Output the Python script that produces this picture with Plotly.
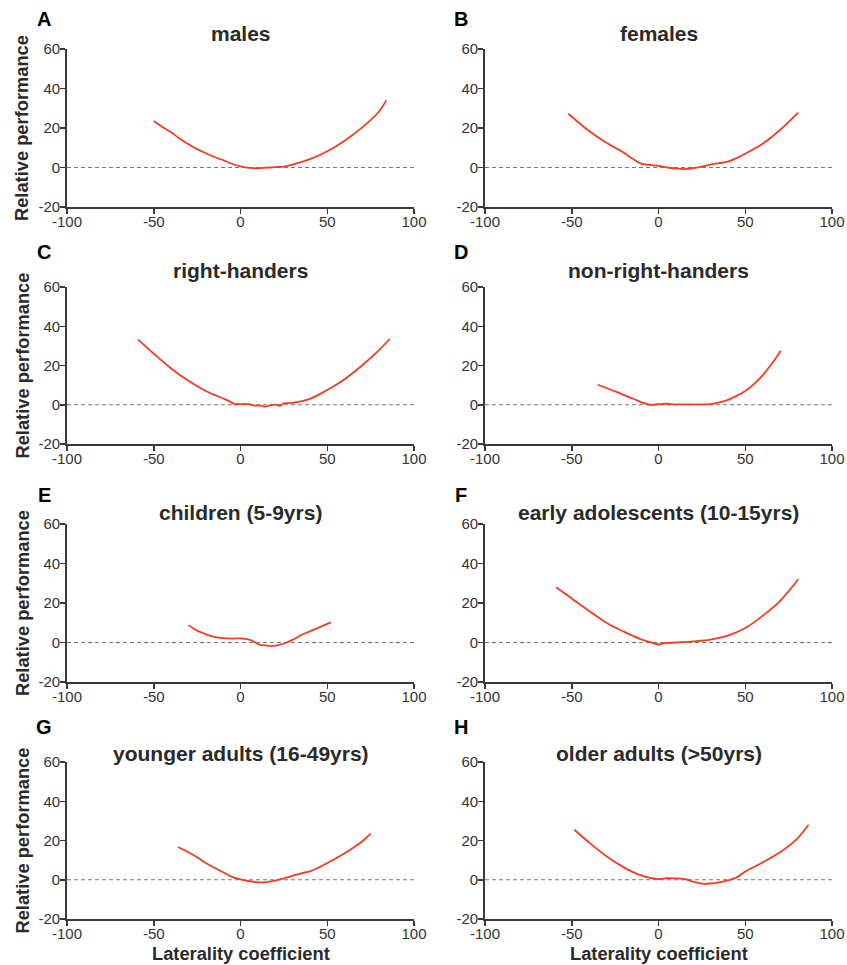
import plotly.graph_objects as go

W, H = 847, 965

titles = ["males", "females", "right-handers", "non-right-handers",
          "children (5-9yrs)", "early adolescents (10-15yrs)",
          "younger adults (16-49yrs)", "older adults (>50yrs)"]
letters = ["A", "B", "C", "D", "E", "F", "G", "H"]

males_x = [-50, -45, -40, -35, -30, -25, -20, -15, -10, -5, 0, 5, 10, 15, 20, 25, 30, 40, 50, 60, 70, 80, 84]
males_y = [23.5, 20.5, 17.8, 14.6, 11.8, 9.3, 7.2, 5.3, 3.7, 1.9, 0.6, -0.2, -0.4, -0.1, 0.2, 0.4, 1.5, 4.2, 8.2, 13.6, 20.2, 28.5, 34.0]

females_x = [-52, -45, -40, -30, -25, -20, -15, -10, -5, 0, 5, 10, 15, 20, 25, 30, 35, 40, 45, 50, 60, 70, 80.5]
females_y = [27.2, 22.0, 18.5, 12.5, 10.0, 7.5, 4.5, 2.0, 1.3, 0.8, 0.0, -0.5, -0.8, -0.3, 0.5, 1.5, 2.2, 3.0, 4.8, 7.0, 12.0, 19.0, 27.8]

right_x = [-59, -50, -40, -30, -20, -10, -6, -4, 0, 5, 8, 12, 14, 17, 20, 23, 25, 30, 40, 50, 60, 70, 80, 86]
right_y = [33.2, 26.0, 18.5, 12.2, 7.0, 3.2, 1.6, 0.6, 0.3, 0.3, -0.4, -0.5, -1.0, -0.3, 0.1, -0.5, 0.7, 0.9, 3.0, 7.5, 13.0, 20.0, 28.0, 33.5]

nonright_x = [-35, -25, -15, -5, 0, 5, 10, 20, 30, 35, 40, 45, 50, 55, 60, 65, 70.5]
nonright_y = [10.2, 6.8, 3.2, 0.0, 0.3, 0.5, 0.2, 0.2, 0.3, 1.2, 2.5, 4.5, 7.0, 10.5, 15.0, 20.5, 27.5]

children_x = [-30, -25, -20, -15, -10, -5, 0, 5, 8, 10, 15, 20, 25, 30, 35, 40, 45, 52]
children_y = [8.8, 6.0, 4.2, 2.8, 2.2, 2.0, 2.1, 1.5, 0.3, -0.8, -1.6, -1.6, -0.5, 1.3, 3.8, 5.6, 7.5, 10.2]

early_x = [-59, -50, -40, -30, -20, -10, -5, 0, 3, 10, 20, 30, 40, 50, 60, 70, 80.5]
early_y = [28.0, 22.3, 16.0, 10.0, 5.5, 1.6, 0.2, -1.0, -0.4, 0.0, 0.6, 1.5, 3.5, 7.3, 13.5, 21.0, 32.0]

younger_x = [-36, -30, -25, -20, -10, -5, 0, 5, 10, 15, 20, 25, 30, 35, 40, 45, 50, 60, 70, 75]
younger_y = [16.7, 14.0, 11.5, 8.5, 3.8, 1.5, 0.2, -0.7, -1.3, -1.2, -0.5, 0.7, 2.0, 3.3, 4.3, 6.2, 8.5, 13.5, 19.5, 23.5]

older_x = [-48.5, -40, -30, -20, -15, -10, -5, 0, 5, 10, 15, 20, 25, 30, 35, 40, 45, 50, 60, 70, 80, 86.5]
older_y = [25.5, 19.0, 12.0, 6.3, 4.0, 2.2, 0.9, 0.3, 0.8, 0.7, 0.3, -1.0, -2.0, -1.9, -1.3, -0.3, 1.2, 4.2, 8.8, 14.0, 21.0, 28.0]

series = [(males_x, males_y), (females_x, females_y), (right_x, right_y),
          (nonright_x, nonright_y), (children_x, children_y), (early_x, early_y),
          (younger_x, younger_y), (older_x, older_y)]

x_ticks = [-100, -50, 0, 50, 100]
x_tick_labels = ["-100", "-50", "0", "50", "100"]
y_ticks = [-20, 0, 20, 40, 60]
y_tick_labels = ["-20", "0", "20", "40", "60"]

# pixel layout
col_px = [(67, 414), (485, 832)]
row_px = [(49, 207), (287, 444), (524, 682), (762, 919)]
title_py = [33, 270, 512, 753]
letter_py = [19, 252, 495, 727]
letter_px = [44, 461]

FONT = "Liberation Sans, Arial, Helvetica, sans-serif"
RED = "#f23c25"
AX = "#3a3a3a"

fig = go.Figure()
annotations = []
layout = {}

for i, (xs, ys) in enumerate(series):
    r, c = divmod(i, 2)
    n = i + 1
    xa = f"x{n}" if n > 1 else "x"
    ya = f"y{n}" if n > 1 else "y"
    fig.add_trace(go.Scatter(x=xs, y=ys, xaxis=xa, yaxis=ya, mode="lines",
                             line=dict(color=RED, width=1.8, shape="spline", smoothing=1.0),
                             showlegend=False, hoverinfo="skip"))
    x0, x1 = col_px[c]
    y0, y1 = row_px[r]
    axis_common = dict(showline=True, linecolor=AX, linewidth=1.8, ticks="outside",
                       ticklen=5, tickwidth=1.5, tickcolor=AX, showgrid=False, zeroline=False,
                       automargin=False,
                       tickfont=dict(family=FONT, size=15, color="#333333"))
    layout[f"xaxis{n}" if n > 1 else "xaxis"] = dict(
        domain=[x0 / W, x1 / W], range=[-100, 100], tickvals=x_ticks, ticktext=x_tick_labels,
        anchor=ya, ticklabelstandoff=-5, **axis_common)
    layout[f"yaxis{n}" if n > 1 else "yaxis"] = dict(
        domain=[1 - y1 / H, 1 - y0 / H], range=[-20, 60], tickvals=y_ticks, ticktext=y_tick_labels,
        anchor=xa, ticklabelstandoff=-3, **axis_common)
    fig.add_shape(type="line", xref=f"{xa} domain", yref=ya, x0=0, x1=1, y0=0, y1=0,
                  line=dict(color="#777777", width=1, dash="4px,3px"), layer="below")
    cx = (x0 + x1) / 2
    annotations.append(dict(text=f"<b>{titles[i]}</b>", x=cx / W, y=1 - title_py[r] / H,
                            xref="paper", yref="paper", xanchor="center", yanchor="middle",
                            showarrow=False, font=dict(family=FONT, size=21, color="#2a2a2a")))
    annotations.append(dict(text=f"<b>{letters[i]}</b>", x=letter_px[c] / W, y=1 - letter_py[r] / H,
                            xref="paper", yref="paper", xanchor="center", yanchor="middle",
                            showarrow=False, font=dict(family=FONT, size=20, color="#000000")))
    if c == 0:
        annotations.append(dict(text="<b>Relative performance</b>", x=22 / W, y=1 - ((y0 + y1) / 2) / H,
                                xref="paper", yref="paper", xanchor="center", yanchor="middle",
                                textangle=-90, showarrow=False,
                                font=dict(family=FONT, size=18.3, color="#2a2a2a")))
    if r == 3:
        annotations.append(dict(text="<b>Laterality coefficient</b>", x=cx / W, y=1 - 953 / H,
                                xref="paper", yref="paper", xanchor="center", yanchor="middle",
                                showarrow=False, font=dict(family=FONT, size=18.3, color="#2a2a2a")))

fig.update_layout(width=W, height=H, autosize=False, margin=dict(l=0, r=0, t=0, b=0),
                  plot_bgcolor="white", paper_bgcolor="white", annotations=annotations,
                  font=dict(family=FONT), **layout)

fig.write_html("out.html", config={"displayModeBar": False, "staticPlot": True},
               post_script="document.body.style.margin='0';document.body.style.overflow='hidden';")
